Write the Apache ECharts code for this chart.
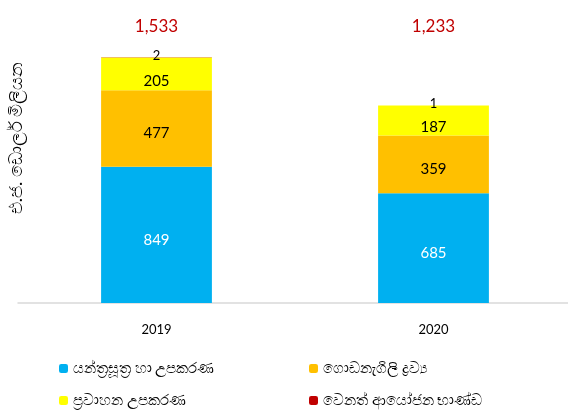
<!DOCTYPE html>
<html><head><meta charset="utf-8">
<script src="https://cdn.jsdelivr.net/npm/echarts@6/dist/echarts.min.js"></script>
<style>html,body{margin:0;padding:0;background:#fff}#c{width:568px;height:412px}</style>
</head><body><div id="c"></div>
<script>
const categories = ['2019', '2020'];
const machinery = [849, 685];
const building = [477, 359];
const transport = [205, 187];
const other = [2, 1];
const totalLabels = ['1,533', '1,233'];
const seriesNames = ['යන්ත්‍රසූත්‍ර හා උපකරණ', 'ගොඩනැගිලි ද්‍රව්‍ය', 'ප්‍රවාහන උපකරණ', 'වෙනත් ආයෝජන භාණ්ඩ'];
const yName = 'එ.ජ. ඩොලර් මිලියන';

const font = 'Lato, "Noto Sans", sans-serif';
const chart = echarts.init(document.getElementById('c'));
const lbl = (color, dy) => ({show: true, position: 'inside', offset: [0, dy], color: color, fontSize: 15, fontFamily: font});
const legendPos = [[54, 356], [304, 356], [54, 388], [304, 388]];
chart.setOption({
  animation: false,
  grid: {left: 18, right: -4, top: 40, bottom: 109, outerBoundsMode: 'none', containLabel: false},
  graphic: [{
    type: 'text', x: 16, y: 138, rotation: Math.PI / 2,
    style: {text: yName, fill: '#000', fontSize: 18, fontFamily: font, align: 'center', verticalAlign: 'middle'}
  }],
  xAxis: [{
    type: 'category', data: categories,
    axisLine: {lineStyle: {color: '#d9d9d9', width: 1.5}},
    axisTick: {show: false},
    axisLabel: {color: '#000', fontSize: 13, margin: 20, fontFamily: font}
  }, {
    type: 'category', data: totalLabels, position: 'top',
    axisLine: {show: false}, axisTick: {show: false},
    axisLabel: {color: '#C00000', fontSize: 17, margin: 5, fontFamily: font}
  }],
  yAxis: {
    type: 'value', min: 0, max: 1640,
    axisLine: {show: false}, axisTick: {show: false}, axisLabel: {show: false}, splitLine: {show: false}
  },
  legend: seriesNames.map((n, i) => ({
    left: legendPos[i][0], top: legendPos[i][1], itemWidth: 9, itemHeight: 9, itemGap: 4,
    data: [n], textStyle: {color: '#000', fontSize: 14.5, fontFamily: font}
  })),
  series: [
    {name: seriesNames[0], type: 'bar', stack: 's', barWidth: '40%', data: machinery,
     itemStyle: {color: '#00B0F0'}, label: lbl('#fff', 5)},
    {name: seriesNames[1], type: 'bar', stack: 's', data: building,
     itemStyle: {color: '#FFC000'}, label: lbl('#000', 5)},
    {name: seriesNames[2], type: 'bar', stack: 's', data: transport,
     itemStyle: {color: '#FFFF00'}, label: lbl('#000', 7)},
    {name: seriesNames[3], type: 'bar', stack: 's', data: other,
     itemStyle: {color: '#C00000'}, label: {show: true, position: 'top', distance: -5, color: '#000', fontSize: 13, fontFamily: font}}
  ]
});
</script></body></html>
